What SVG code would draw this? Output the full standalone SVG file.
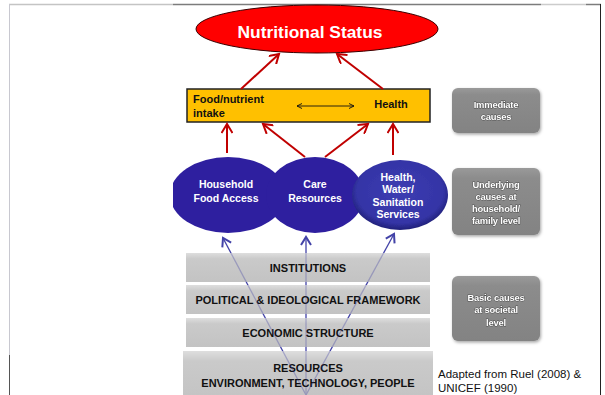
<svg xmlns="http://www.w3.org/2000/svg" width="605" height="395" viewBox="0 0 605 395">
  <style>
    .lbl { font-family: "Liberation Sans", Arial, sans-serif; font-weight: bold; text-anchor: middle; }
    .bar-txt { font-size: 11px; fill: #111; }
    .circ-txt { font-size: 10.5px; fill: #fff; }
    .side-txt { font-size: 9.4px; fill: #fff; stroke: #505050; stroke-width: 0.9px; paint-order: stroke; letter-spacing: -0.2px; }
    .red { stroke: #C00000; stroke-width: 2; fill: none; }
    .blue { stroke: #2E2E9E; stroke-width: 1.3; fill: none; }
    .frame { fill: none; stroke-width: 1.5; }
  </style>
  <defs>
    <marker id="headRed" viewBox="-10 -6 12 12" refX="0" refY="0" markerWidth="12" markerHeight="12" markerUnits="userSpaceOnUse" orient="auto">
      <path d="M-9,-5.5 L0,0 L-9,5.5" fill="none" stroke="#C00000" stroke-width="2"/>
    </marker>
    <marker id="headBlue" viewBox="-9 -6 11 12" refX="0" refY="0" markerWidth="11" markerHeight="12" markerUnits="userSpaceOnUse" orient="auto">
      <path d="M-8,-5 L0,0 L-8,5" fill="none" stroke="#2E2E9E" stroke-width="2"/>
    </marker>
    <marker id="headThin" viewBox="-6 -4 7 8" refX="0" refY="0" markerWidth="7" markerHeight="8" markerUnits="userSpaceOnUse" orient="auto-start-reverse">
      <path d="M-5,-2.5 L0,0 L-5,2.5" fill="none" stroke="#111" stroke-width="0.9"/>
    </marker>
    <linearGradient id="barFill" x1="0" y1="0" x2="0" y2="1">
      <stop offset="0" stop-color="#dedede"/>
      <stop offset="0.2" stop-color="#cacaca"/>
      <stop offset="1" stop-color="#c3c3c3"/>
    </linearGradient>
    <linearGradient id="sideFill" x1="0" y1="0" x2="0" y2="1">
      <stop offset="0" stop-color="#9a9a9a"/>
      <stop offset="0.15" stop-color="#8c8c8c"/>
      <stop offset="1" stop-color="#838383"/>
    </linearGradient>
    <radialGradient id="healthFill" cx="0.5" cy="0.45" r="0.55">
      <stop offset="0" stop-color="#3d3db2"/>
      <stop offset="0.82" stop-color="#3434a6"/>
      <stop offset="1" stop-color="#202078"/>
    </radialGradient>
    <filter id="soft" x="-10%" y="-10%" width="120%" height="120%">
      <feGaussianBlur stdDeviation="0.5"/>
    </filter>
    <filter id="shadow" x="-15%" y="-15%" width="135%" height="135%">
      <feDropShadow dx="1" dy="1.5" stdDeviation="1.5" flood-color="#000" flood-opacity="0.35"/>
    </filter>
    <clipPath id="leftCut">
      <rect x="173" y="140" width="300" height="110"/>
    </clipPath>
    <!-- fades the blue links where they pass behind the grey layers -->
    <mask id="layerFade" maskUnits="userSpaceOnUse" x="0" y="0" width="605" height="395">
      <rect x="0" y="0" width="605" height="395" fill="#fff"/>
      <rect x="183" y="253" width="250" height="29" fill="#555"/>
      <rect x="183" y="285" width="250" height="29" fill="#555"/>
      <rect x="183" y="318" width="250" height="29" fill="#555"/>
      <rect x="183" y="351" width="250" height="44" fill="#555"/>
    </mask>
  </defs>

  <rect width="605" height="395" fill="#fff"/>

  <!-- slide frame -->
  <g id="frame">
    <line class="frame" x1="9" y1="4.5" x2="173" y2="4.5" stroke="#c4c4c4"/>
    <line class="frame" x1="173" y1="4.5" x2="541" y2="4.5" stroke="#7c7c7c"/>
    <line class="frame" x1="541" y1="4.5" x2="586" y2="4.5" stroke="#cccccc"/>
    <line class="frame" x1="586" y1="4.5" x2="601" y2="4.5" stroke="#7c7c7c"/>
    <line x1="600.5" y1="4" x2="600.5" y2="395" stroke="#222" stroke-width="1"/>
    <line x1="9.5" y1="4" x2="9.5" y2="395" stroke="#c8c8d0" stroke-width="1"/>
    <line x1="9.5" y1="355" x2="9.5" y2="395" stroke="#555" stroke-width="1"/>
  </g>

  <!-- society-level layers -->
  <g id="institutions">
    <rect x="186" y="253" width="244" height="29" fill="url(#barFill)"/>
    <text class="lbl bar-txt" x="308" y="271.5">INSTITUTIONS</text>
  </g>
  <g id="political">
    <rect x="186" y="285" width="244" height="29" fill="url(#barFill)"/>
    <text class="lbl bar-txt" x="308" y="304">POLITICAL &amp; IDEOLOGICAL FRAMEWORK</text>
  </g>
  <g id="economic">
    <rect x="186" y="318" width="244" height="29" fill="url(#barFill)"/>
    <text class="lbl bar-txt" x="308" y="337">ECONOMIC STRUCTURE</text>
  </g>
  <g id="resources">
    <rect x="183" y="351" width="250" height="50" fill="url(#barFill)"/>
    <text class="lbl bar-txt" x="308" y="372">RESOURCES</text>
    <text class="lbl bar-txt" x="308" y="387">ENVIRONMENT, TECHNOLOGY, PEOPLE</text>
  </g>

  <!-- underlying causes -->
  <g id="household">
    <ellipse cx="228" cy="195" rx="58" ry="38" fill="#2E1F9F" clip-path="url(#leftCut)"/>
    <text class="lbl circ-txt" x="226" y="188">Household</text>
    <text class="lbl circ-txt" x="226" y="201.5">Food Access</text>
  </g>
  <g id="care">
    <ellipse cx="315" cy="195" rx="49" ry="38" fill="#2E1F9F"/>
    <text class="lbl circ-txt" x="315" y="188">Care</text>
    <text class="lbl circ-txt" x="315" y="201.5">Resources</text>
  </g>
  <g id="health-services">
    <ellipse cx="400" cy="195" rx="48" ry="35" fill="url(#healthFill)" filter="url(#soft)"/>
    <text class="lbl circ-txt" x="398" y="180.5">Health,</text>
    <text class="lbl circ-txt" x="398" y="193">Water/</text>
    <text class="lbl circ-txt" x="398" y="205.5">Sanitation</text>
    <text class="lbl circ-txt" x="398" y="218">Services</text>
  </g>

  <!-- immediate causes -->
  <g id="intake-health">
    <rect x="187" y="89" width="243" height="33" fill="#FFC000" stroke="#222" stroke-width="1.5"/>
    <text class="lbl" x="193" y="103" font-size="11" fill="#111" style="text-anchor:start">Food/nutrient</text>
    <text class="lbl" x="193" y="117" font-size="11" fill="#111" style="text-anchor:start">intake</text>
    <text class="lbl" x="391" y="108" font-size="11" fill="#111">Health</text>
  </g>

  <!-- outcome -->
  <g id="nutritional-status">
    <ellipse cx="317" cy="29" rx="121" ry="24" fill="#FF0000" stroke="#3a0000" stroke-width="1"/>
    <text class="lbl" x="310" y="38" font-size="17.4" fill="#fff">Nutritional Status</text>
  </g>

  <!-- level labels -->
  <g id="label-immediate" filter="url(#shadow)">
    <rect x="452" y="88" width="88" height="45" rx="6" fill="url(#sideFill)"/>
    <text class="lbl side-txt" x="496" y="107.5">Immediate</text>
    <text class="lbl side-txt" x="496" y="119.5">causes</text>
  </g>
  <g id="label-underlying" filter="url(#shadow)">
    <rect x="452" y="168" width="88" height="67" rx="6" fill="url(#sideFill)"/>
    <text class="lbl side-txt" x="496" y="187.5">Underlying</text>
    <text class="lbl side-txt" x="496" y="199.5">causes at</text>
    <text class="lbl side-txt" x="496" y="211.5">household/</text>
    <text class="lbl side-txt" x="496" y="223.5">family level</text>
  </g>
  <g id="label-basic" filter="url(#shadow)">
    <rect x="452" y="276" width="88" height="65" rx="6" fill="url(#sideFill)"/>
    <text class="lbl side-txt" x="496" y="300.5">Basic causes</text>
    <text class="lbl side-txt" x="496" y="313">at societal</text>
    <text class="lbl side-txt" x="496" y="325.5">level</text>
  </g>

  <g id="citation">
    <text x="438" y="378" font-family="'Liberation Sans', Arial, sans-serif" font-size="11.5" fill="#111">Adapted from Ruel (2008) &amp;</text>
    <text x="438" y="392" font-family="'Liberation Sans', Arial, sans-serif" font-size="11.5" fill="#111">UNICEF (1990)</text>
  </g>

  <g id="connectors">
    <!-- basic causes feeding the underlying causes -->
    <g mask="url(#layerFade)" opacity="0.9">
      <path class="blue" d="M306,395 L223,238" marker-end="url(#headBlue)"/>
      <path class="blue" d="M306,395 L306,237" marker-end="url(#headBlue)"/>
      <path class="blue" d="M306,395 L394,234" marker-end="url(#headBlue)"/>
    </g>
    <!-- underlying to immediate -->
    <path class="red" d="M227,153 L227,124" marker-end="url(#headRed)"/>
    <path class="red" d="M305,157 L263,124" marker-end="url(#headRed)"/>
    <path class="red" d="M325,157 L368,124" marker-end="url(#headRed)"/>
    <path class="red" d="M393,155 L393,124" marker-end="url(#headRed)"/>
    <!-- immediate to outcome -->
    <path class="red" d="M241,89 L279,54" marker-end="url(#headRed)"/>
    <path class="red" d="M383,89 L337,54" marker-end="url(#headRed)"/>
    <!-- intake and health interact -->
    <path d="M297,106 L354,106" stroke="#111" stroke-width="0.9" fill="none" marker-start="url(#headThin)" marker-end="url(#headThin)"/>
  </g>
</svg>
